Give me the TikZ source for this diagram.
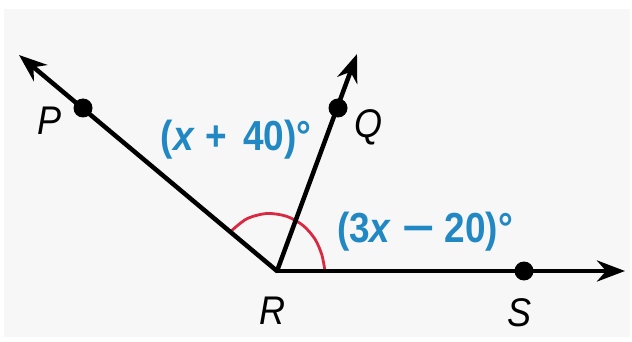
\documentclass[tikz,border=0pt]{standalone}
\usepackage{fontspec}
\setmainfont{Liberation Sans}
\usetikzlibrary{arrows.meta}
\definecolor{bgray}{HTML}{F7F7F7}
\definecolor{lblue}{HTML}{2188C4}
\definecolor{arcred}{HTML}{D9283F}
\tikzset{
  ray/.style={line width=4.5pt, -{Stealth[length=28pt,width=21pt,inset=9pt]}},
  dotpt/.style={circle, fill=black, inner sep=0pt, minimum size=19pt},
  ptlabel/.style={font=\fontsize{40}{46}\selectfont\itshape, inner sep=0pt},
  anglabel/.style={font=\fontsize{42}{48}\selectfont\bfseries, text=lblue, inner sep=0pt},
  anglemark/.style={draw=arcred, line width=2.8pt}
}
\begin{document}
\begin{tikzpicture}[x=1pt,y=-1pt]
\useasboundingbox (0,0) rectangle (632,342);
\fill[white] (0,0) rectangle (632,342);
\fill[bgray] (4,9) rectangle (630,337);
% points
\coordinate (R) at (277,271);
\coordinate (Stip) at (625,271);
\coordinate (Ptip) at (19,55);
\coordinate (Qtip) at (357,54);
% angle mark
\draw[anglemark] plot[smooth] coordinates {(325,271) (321.8,254.7) (315.0,239.1) (303.2,225.6) (286.6,216.3) (266.9,213.5) (246.8,218.8) (230.3,231.8)};
% rays
\draw[ray] (R) -- (Stip);
\draw[ray] (R) -- (Ptip);
\draw[ray] (R) -- (Qtip);
\fill (R) circle (2.2pt);
% dots
\node[dotpt] (P) at (83,108) {};
\node[dotpt] (Q) at (338,108) {};
\node[dotpt] (S) at (524,271) {};
% point labels
\node[ptlabel] (Plab) at (50,121) {\scalebox{0.9}[1]{P}};
\node[ptlabel] (Qlab) at (368,127) {\scalebox{0.9}[1]{Q}};
\node[ptlabel] (Rlab) at (272,311) {\scalebox{0.9}[1]{R}};
\node[ptlabel] (Slab) at (519,313) {\scalebox{0.9}[1]{S}};
% angle labels
\node[anglabel] (a1) at (236,140) {\scalebox{0.88}[1]{(\textit{x} + \,40)°}};
\node[anglabel] (a2) at (425,232) {\scalebox{0.88}[1]{(3\textit{x} \scalebox{1.5}[1]{−} 20)°}};
\end{tikzpicture}
\end{document}
